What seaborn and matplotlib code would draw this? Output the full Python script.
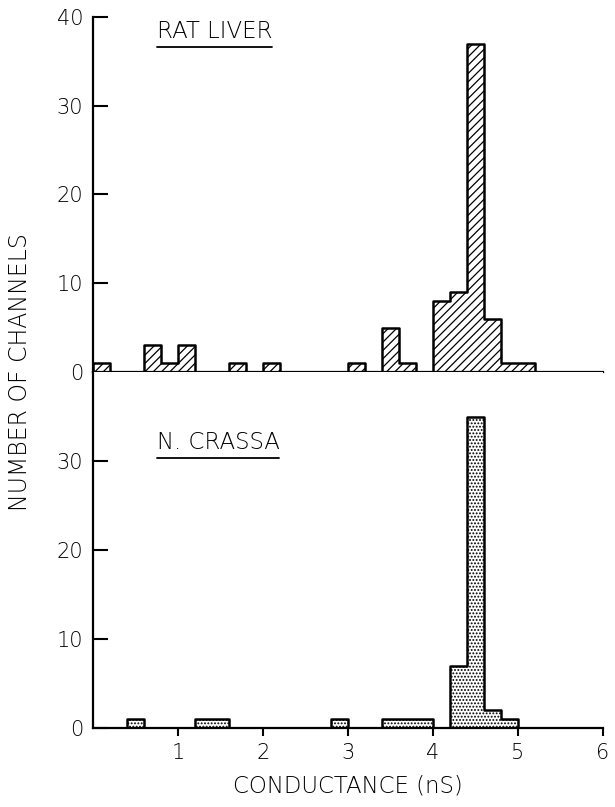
import numpy as np
import pandas as pd
import seaborn as sns
import matplotlib.pyplot as plt

# left edge of every 0.2 nS bin that holds channels, and how many
rat_left = [0.0, 0.6, 0.8, 1.0, 1.6, 2.0, 3.0, 3.4, 3.6, 4.0, 4.2, 4.4, 4.6, 4.8, 5.0]
rat_count = [1, 3, 1, 3, 1, 1, 1, 5, 1, 8, 9, 37, 6, 1, 1]

crassa_left = [0.4, 1.2, 1.4, 2.8, 3.4, 3.6, 3.8, 4.2, 4.4, 4.6, 4.8]
crassa_count = [1, 1, 1, 1, 1, 1, 1, 7, 35, 2, 1]

bin_width = 0.2
x_ticks = [1, 2, 3, 4, 5, 6]
top_y_ticks = [0, 10, 20, 30, 40]
bot_y_ticks = [0, 10, 20, 30]

sns.set_style("white")
plt.rcParams["font.family"] = ["DejaVu Sans"]
plt.rcParams["font.weight"] = "light"
plt.rcParams["text.color"] = "black"
plt.rcParams["hatch.linewidth"] = 0.9

rat = pd.DataFrame({"g": np.array(rat_left) + bin_width / 2, "n": rat_count})
crassa = pd.DataFrame({"g": np.array(crassa_left) + bin_width / 2, "n": crassa_count})

fig = plt.figure(figsize=(6.15, 8.07), dpi=100)
ax_top = fig.add_axes([0.151, 0.539, 0.829, 0.440])
ax_bot = fig.add_axes([0.151, 0.098, 0.829, 0.441])

panels = [
    (ax_top, rat, "////", "RAT LIVER", top_y_ticks),
    (ax_bot, crassa, ".....", "N. CRASSA", bot_y_ticks),
]

labels = []
for ax, df, hatch, name, yt in panels:
    sns.histplot(
        data=df, x="g", weights="n",
        binwidth=bin_width, binrange=(0, 5.2),
        element="step", fill=True,
        facecolor="white", edgecolor="black",
        linewidth=1.8, hatch=hatch, ax=ax,
    )
    ax.set_xlim(0, 6)
    ax.set_ylim(0, 40)
    ax.set_yticks(yt)
    ax.set_xlabel("")
    ax.set_ylabel("")
    sns.despine(ax=ax)
    for s in ["left", "bottom"]:
        ax.spines[s].set_linewidth(1.6)
        ax.spines[s].set_color("black")
    ax.tick_params(axis="y", direction="in", length=11, width=1.5,
                   labelsize=15, pad=7, left=True, colors="black")
    t = ax.text(0.125, 0.928 if ax is ax_top else 0.77, name,
                transform=ax.transAxes, fontsize=16.5, va="bottom")
    labels.append((ax, t))

ax_top.tick_params(axis="x", bottom=False, labelbottom=False)
ax_bot.set_xticks(x_ticks)
ax_bot.tick_params(axis="x", direction="out", length=6, width=1.5,
                   labelsize=15, pad=5, bottom=True, colors="black")

# underline the panel names
fig.canvas.draw()
for ax, t in labels:
    bb = t.get_window_extent().transformed(ax.transAxes.inverted())
    y = bb.y0 - 0.012
    ax.plot([bb.x0, bb.x1], [y, y], transform=ax.transAxes,
            color="black", lw=1.3, clip_on=False)

fig.text(0.033, 0.539, "NUMBER OF CHANNELS", rotation=90,
         ha="center", va="center", fontsize=17)
fig.text(0.566, 0.026, "CONDUCTANCE (nS)", ha="center", va="center",
         fontsize=16.5)

fig.savefig("out.png", dpi=100)
